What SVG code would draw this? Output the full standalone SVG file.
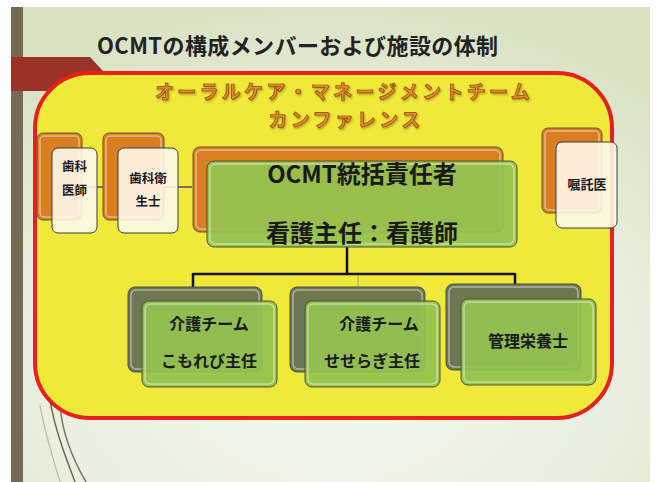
<svg xmlns="http://www.w3.org/2000/svg" width="657" height="482" viewBox="0 0 657 482">
<defs>
<radialGradient id="bg" cx="0.5" cy="0.75" r="0.75">
<stop offset="0" stop-color="#f5f7ee"/>
<stop offset="0.6" stop-color="#eaefdf"/>
<stop offset="1" stop-color="#d9e3c4"/>
</radialGradient>
<filter id="sh" x="-5%" y="-20%" width="110%" height="150%">
<feDropShadow dx="1" dy="1.5" stdDeviation="0.8" flood-color="#7a5a10" flood-opacity="0.55"/>
</filter>
<style>
.t{font-family:"Noto Sans CJK JP","Noto Sans",sans-serif;font-weight:bold;fill:#1a1a1a;text-anchor:middle;dominant-baseline:central}
.head{font-family:"Noto Sans CJK JP",sans-serif;font-weight:bold;font-size:19px;letter-spacing:3.3px;fill:#ea8a2a;stroke:#8a4510;stroke-width:0.7;text-anchor:middle}
.or{fill:#d97f22;stroke:#6b5632;stroke-width:1}
.dk{fill:#6d7853;stroke:#4a5240;stroke-width:1}
.wh{fill:#fdf8ea;fill-opacity:0.9;stroke:#3c3c3c;stroke-width:1}
.gr{fill:#93c351;fill-opacity:0.93;stroke:#4a5530;stroke-width:1}
.hl{fill:none;stroke:#ffffff;stroke-opacity:0.45;stroke-width:1.5}
.ln{fill:none;stroke:#111;stroke-width:2.5}
.pl{fill:none;stroke:#6a3d8a;stroke-width:1.5}
</style>
</defs>
<rect x="0" y="0" width="657" height="482" fill="#ffffff"/>
<rect x="11" y="7" width="639" height="475" fill="url(#bg)"/>
<rect x="11" y="7" width="12" height="475" fill="#756a55"/>
<polygon points="11,57 90,57 103,71 103,91 11,91" fill="#9a3226"/>
<g fill="none" stroke="#6e6656" stroke-width="1.5">
<path d="M50,400 C55,430 65,455 75,482"/>
<path d="M60,405 C62,432 72,458 86,482" stroke-opacity="0.9"/>
<path d="M40,405 C44,430 52,455 60,482" stroke="#b8b8a8" stroke-width="1.2"/>
</g>
<rect x="35" y="73" width="577" height="345" rx="55" ry="55" fill="#f0e93a" stroke="#e8201c" stroke-width="4"/>
<text x="97" y="54" font-family="'Noto Sans CJK JP','Noto Sans',sans-serif" font-weight="bold" font-size="22" letter-spacing="0.4" fill="#222">OCMTの構成メンバーおよび施設の体制</text>
<g filter="url(#sh)">
<text class="head"><tspan x="344" y="99">オーラルケア・マネージメントチーム</tspan><tspan x="346" y="127">カンファレンス</tspan></text>
</g>
<g id="connectors">
<line class="pl" x1="81" y1="187" x2="192" y2="187"/>
<path class="ln" d="M347,247 V274 M193,274 H515 M193,273 V287 M515,273 V285"/>
<line x1="358" y1="275" x2="358" y2="287" stroke="#a9b36a" stroke-width="1.2"/>
</g>
<g id="node-shika-ishi">
<rect class="or" x="37" y="133" width="45" height="87" rx="6"/>
<rect class="hl" x="40" y="136" width="39" height="81" rx="4"/>
<rect class="wh" x="52" y="148" width="45" height="85" rx="6"/>
<text class="t" x="74.5" y="165" font-size="12.5">歯科</text>
<text class="t" x="74.5" y="189" font-size="12.5">医師</text>
</g>
<g id="node-shika-eiseishi">
<rect class="or" x="103" y="133" width="61" height="87" rx="6"/>
<rect class="hl" x="106" y="136" width="55" height="81" rx="4"/>
<rect class="wh" x="118" y="148" width="60" height="85" rx="6"/>
<text class="t" x="148" y="177" font-size="12.5">歯科衛</text>
<text class="t" x="148" y="200" font-size="12.5">生士</text>
</g>
<g id="node-ocmt">
<rect class="or" x="193" y="147" width="310" height="85" rx="7"/>
<rect class="hl" x="196" y="150" width="304" height="79" rx="5"/>
<rect class="gr" x="207" y="161" width="310" height="86" rx="7"/>
<rect class="hl" x="210" y="164" width="304" height="80" rx="5"/>
<text class="t" x="362" y="172" font-size="24">OCMT統括責任者</text>
<text class="t" x="362" y="231" font-size="24">看護主任：看護師</text>
</g>
<g id="node-shokutakui">
<rect class="or" x="542" y="128" width="60" height="85" rx="6"/>
<rect class="hl" x="545" y="131" width="54" height="79" rx="4"/>
<rect class="wh" x="556" y="142" width="61" height="86" rx="6"/>
<text class="t" x="587" y="183" font-size="13">嘱託医</text>
</g>
<g id="node-kaigo-komorebi">
<rect class="dk" x="128" y="287" width="134" height="85" rx="7"/>
<rect class="hl" x="131" y="290" width="128" height="79" rx="5"/>
<rect class="gr" x="142" y="301" width="135" height="86" rx="7"/>
<rect class="hl" x="145" y="304" width="129" height="80" rx="5"/>
<text class="t" x="209" y="323" font-size="16">介護チーム</text>
<text class="t" x="209" y="360" font-size="16">こもれび主任</text>
</g>
<g id="node-kaigo-seseragi">
<rect class="dk" x="290" y="287" width="135" height="85" rx="7"/>
<rect class="hl" x="293" y="290" width="129" height="79" rx="5"/>
<rect class="gr" x="305" y="301" width="135" height="86" rx="7"/>
<rect class="hl" x="308" y="304" width="129" height="80" rx="5"/>
<text class="t" x="379" y="323" font-size="16">介護チーム</text>
<text class="t" x="372" y="360" font-size="16">せせらぎ主任</text>
</g>
<g id="node-eiyoushi">
<rect class="dk" x="446" y="284" width="135" height="86" rx="7"/>
<rect class="hl" x="449" y="287" width="129" height="80" rx="5"/>
<rect class="gr" x="461" y="299" width="135" height="86" rx="7"/>
<rect class="hl" x="464" y="302" width="129" height="80" rx="5"/>
<text class="t" x="528" y="340" font-size="16">管理栄養士</text>
</g>
</svg>
